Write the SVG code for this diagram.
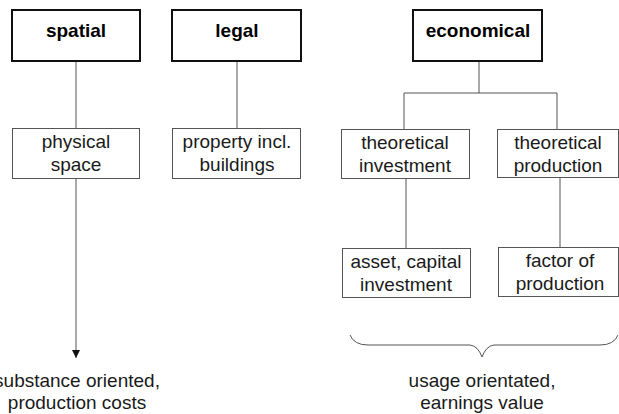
<svg xmlns="http://www.w3.org/2000/svg" width="619" height="414" viewBox="0 0 619 414">
  <defs>
    <marker id="arrow" viewBox="0 0 8 8" refX="8" refY="4" markerWidth="8" markerHeight="8" markerUnits="userSpaceOnUse" orient="auto">
      <path d="M0,0 L8,4 L0,8 z" fill="#111"/>
    </marker>
    <style>
      .head rect { fill: #fff; stroke: #111; stroke-width: 2; }
      .sub rect { fill: #fff; stroke: #555; stroke-width: 1; }
      text { font-family: "Liberation Sans", Arial, sans-serif; font-size: 19px; fill: #1a1a1a; text-anchor: middle; }
      .head text { font-weight: bold; fill: #000; }
      .conn { stroke: #555; stroke-width: 1; fill: none; }
    </style>
  </defs>
  <rect width="619" height="414" fill="#fff"/>

  <g id="connectors">
    <line class="conn" x1="76" y1="61" x2="76" y2="128"/>
    <line class="conn" x1="76" y1="178" x2="76" y2="358" stroke="#333" marker-end="url(#arrow)"/>
    <line class="conn" x1="237" y1="61" x2="237" y2="128"/>
    <line class="conn" x1="479" y1="61" x2="479" y2="93"/>
    <polyline class="conn" points="404,129 404,93 557,93 557,129"/>
    <line class="conn" x1="406" y1="179" x2="406" y2="248"/>
    <line class="conn" x1="560" y1="178" x2="560" y2="247"/>
    <path class="conn" d="M350,335 Q354,345 368,345 L470,345 Q478,346 482,357 Q486,346 494,345 L600,345 Q614,345 618,335"/>
  </g>

  <g id="spatial" class="head">
    <rect x="12" y="10" width="128" height="51"/>
    <text x="76" y="37">spatial</text>
  </g>
  <g id="legal" class="head">
    <rect x="172" y="10" width="129" height="51"/>
    <text x="237" y="37">legal</text>
  </g>
  <g id="economical" class="head">
    <rect x="413" y="10" width="129" height="51"/>
    <text x="478" y="37">economical</text>
  </g>

  <g id="physical-space" class="sub">
    <rect x="12.5" y="128.5" width="127" height="50"/>
    <text x="76" y="148">physical</text>
    <text x="76" y="171">space</text>
  </g>
  <g id="property" class="sub">
    <rect x="172.5" y="128.5" width="128" height="50"/>
    <text x="237" y="148">property incl.</text>
    <text x="237" y="171">buildings</text>
  </g>
  <g id="theoretical-investment" class="sub">
    <rect x="341.5" y="129.5" width="128" height="49"/>
    <text x="405" y="149">theoretical</text>
    <text x="405" y="172">investment</text>
  </g>
  <g id="theoretical-production" class="sub">
    <rect x="497.5" y="129.5" width="121" height="48"/>
    <text x="558" y="149">theoretical</text>
    <text x="558" y="172">production</text>
  </g>
  <g id="asset" class="sub">
    <rect x="342.5" y="248.5" width="128" height="49"/>
    <text x="406" y="268">asset, capital</text>
    <text x="406" y="291">investment</text>
  </g>
  <g id="factor" class="sub">
    <rect x="498.5" y="247.5" width="120" height="49"/>
    <text x="560" y="267">factor of</text>
    <text x="560" y="290">production</text>
  </g>

  <g id="substance-label">
    <text x="77" y="387">substance oriented,</text>
    <text x="77" y="409">production costs</text>
  </g>
  <g id="usage-label">
    <text x="482" y="387">usage orientated,</text>
    <text x="482" y="409">earnings value</text>
  </g>
</svg>
